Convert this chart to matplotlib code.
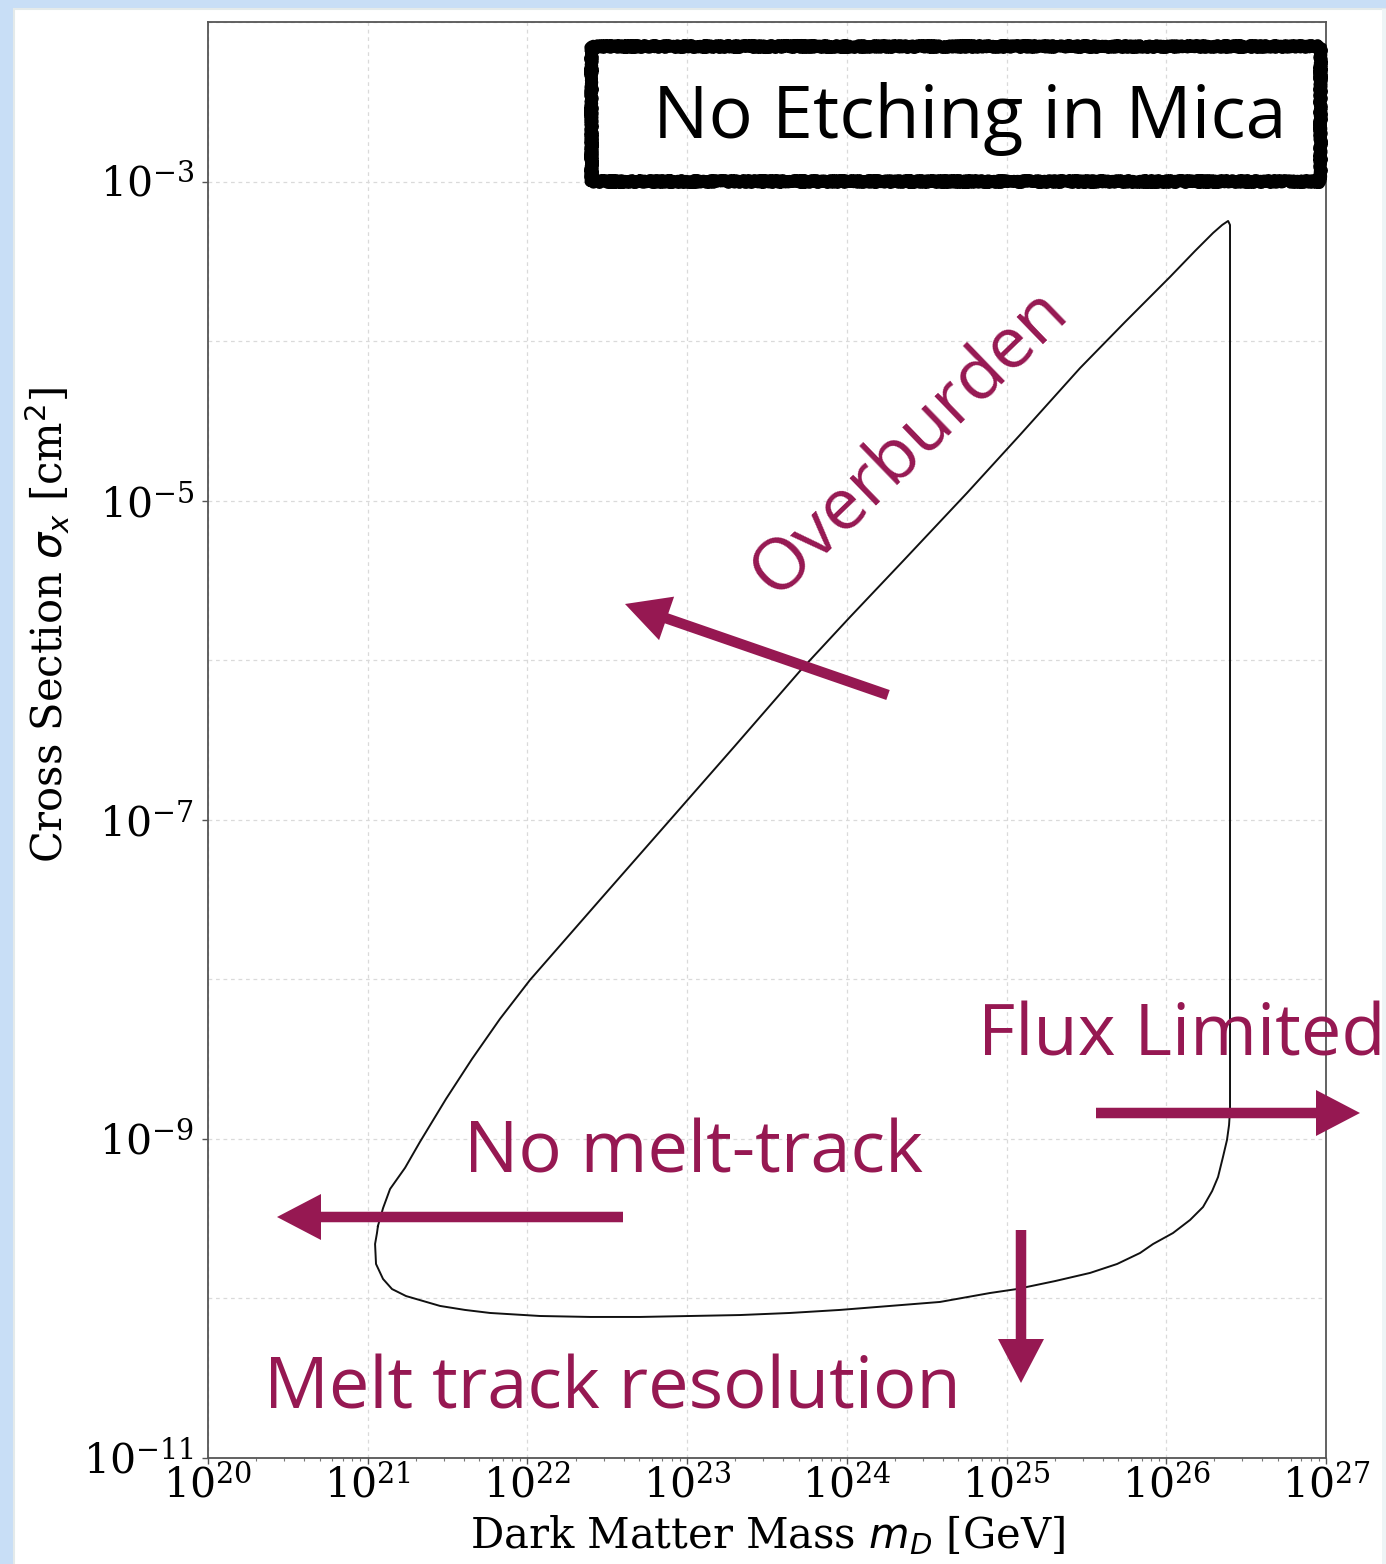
import numpy as np
import matplotlib
matplotlib.use("Agg")
import matplotlib.pyplot as plt
from matplotlib.patches import Rectangle, FancyArrow
from matplotlib.ticker import FixedLocator, LogFormatterSciNotation, NullFormatter, LogLocator

# Exclusion contour, log10 of mass [GeV] and cross section [cm^2]
log_mass = [21.064, 21.096, 21.140, 21.234, 21.327, 21.490, 21.653, 21.828,
            22.016, 22.454, 22.893, 23.300, 23.707, 24.020, 24.352, 24.752,
            25.084, 25.460, 25.742, 26.023, 26.180, 26.293, 26.350, 26.387,
            26.399, 26.399, 26.393, 26.380, 26.355, 26.324, 26.287, 26.230,
            26.149, 26.042, 25.917, 25.836, 25.692, 25.523, 25.304, 25.065,
            24.896, 24.583, 24.270, 23.957, 23.644, 23.331, 23.018, 22.705,
            22.392, 22.079, 21.766, 21.609, 21.453, 21.240, 21.152, 21.096,
            21.052, 21.046, 21.058, 21.064]
log_sigma = [-9.546, -9.434, -9.314, -9.181, -9.019, -8.750, -8.499, -8.248,
             -8.004, -7.502, -7.001, -6.536, -6.067, -5.729, -5.378, -4.952,
             -4.588, -4.169, -3.880, -3.598, -3.435, -3.322, -3.272, -3.247,
             -3.272, -8.819, -8.913, -9.007, -9.113, -9.239, -9.327, -9.427,
             -9.508, -9.590, -9.659, -9.715, -9.784, -9.840, -9.891, -9.941,
             -9.966, -10.022, -10.047, -10.072, -10.091, -10.104, -10.110, -10.116,
             -10.116, -10.110, -10.091, -10.072, -10.047, -9.985, -9.941, -9.878,
             -9.784, -9.659, -9.590, -9.546]

mass = 10.0 ** np.array(log_mass)
sigma = 10.0 ** np.array(log_sigma)

plt.rcParams["font.family"] = "DejaVu Serif"
plt.rcParams["mathtext.fontset"] = "dejavusans"

W, H, DPI = 1386, 1564, 100
fig = plt.figure(figsize=(W / DPI, H / DPI), dpi=DPI)
fig.patch.set_facecolor("#c8def6")


def inch(px, py):
    # pixel position (origin top-left) -> inches from bottom-left
    return px / DPI, (H - py) / DPI


# white slide panel
x0, y0 = inch(14, H + 10)
fig.add_artist(Rectangle((x0, y0), (W + 20 - 14) / DPI, (H + 10 - 9) / DPI,
                         transform=fig.dpi_scale_trans, facecolor="white",
                         edgecolor="#e4eaea", lw=1.5, zorder=0))
xa, ya = inch(1382, H)
fig.add_artist(Rectangle((xa, ya), 4 / DPI, (H - 9) / DPI,
                         transform=fig.dpi_scale_trans, facecolor="#eef4f6",
                         lw=0, zorder=0))

ax = fig.add_axes([208 / W, 1 - 1458 / H, (1326 - 208) / W, (1458 - 22) / H])
ax.set_xscale("log")
ax.set_yscale("log")
ax.set_xlim(1e20, 1e27)
ax.set_ylim(1e-11, 1e-2)

ax.plot(mass, sigma, color="#111111", lw=1.4, zorder=3,
        solid_joinstyle="round")

ax.xaxis.set_major_locator(LogLocator(base=10, numticks=20))
ax.xaxis.set_minor_locator(LogLocator(base=10, subs=np.arange(2, 10), numticks=20))
ax.xaxis.set_minor_formatter(NullFormatter())
ax.yaxis.set_major_locator(FixedLocator([10.0 ** e for e in range(-11, -2, 2)]))
ax.yaxis.set_minor_locator(FixedLocator([10.0 ** e for e in range(-10, -1, 2)]))
ax.yaxis.set_major_formatter(LogFormatterSciNotation())
ax.yaxis.set_minor_formatter(NullFormatter())
ax.tick_params(axis="both", which="major", labelsize=29.5, length=4, width=1,
               color="#555555")
ax.tick_params(axis="x", which="major", pad=2)
ax.tick_params(axis="y", which="major", pad=6)
ax.tick_params(axis="x", which="minor", length=2, width=0.8, color="#777777")
ax.tick_params(axis="y", which="minor", length=0)
for s in ax.spines.values():
    s.set_color("#555555")
    s.set_linewidth(1.3)

grid_kw = dict(color="#dadada", lw=0.9, linestyle=(0, (3, 3)))
ax.xaxis.grid(True, which="major", **grid_kw)
ax.yaxis.grid(True, which="both", **grid_kw)

ax.set_xlabel("Dark Matter Mass $m_D$ [GeV]", fontsize=30, labelpad=4)
ax.set_ylabel(r"Cross Section $\sigma_x$ [cm$^2$]", fontsize=30)
ax.yaxis.set_label_coords((72 - 208) / 1118, (1458 - 625) / 1436)

# hand-drawn style title box: a few rough strokes laid over each other
bx, by = inch(591, 181)
bw, bh = (1320 - 591) / DPI, (181 - 46) / DPI
strokes = [(8, 2.0, 5, 3), (5, 3.0, 3, 4), (4, 3.5, 8, 2), (2.5, 4.5, 2, 3)]
for lw, sc, ln, rn in strokes:
    box = Rectangle((bx, by), bw, bh, transform=fig.dpi_scale_trans,
                    fill=False, edgecolor="black", lw=lw, zorder=5)
    box.set_joinstyle("round")
    box.set_capstyle("round")
    box.set_sketch_params(scale=sc, length=ln, randomness=rn)
    fig.add_artist(box)

hand = "Open Sans"
accent = "#961852"


def label(px, py, s, color=accent, size=52, rot=0):
    x, y = inch(px, py)
    fig.text(x, y, s, transform=fig.dpi_scale_trans, fontsize=size, color=color,
             family=hand, ha="center", va="center", rotation=rot,
             rotation_mode="anchor", zorder=6)


def arrow(px0, py0, px1, py1):
    x0, y0 = inch(px0, py0)
    x1, y1 = inch(px1, py1)
    fig.add_artist(FancyArrow(x0, y0, x1 - x0, y1 - y0, width=0.105,
                              head_width=0.46, head_length=0.44,
                              length_includes_head=True, color=accent,
                              lw=0, transform=fig.dpi_scale_trans, zorder=6))


label(970, 119, "No Etching in Mica", color="black", size=53)
label(910, 443, "Overburden", rot=44)
label(1182, 1037, "Flux Limited")
label(694, 1154, "No melt-track")
label(612, 1390, "Melt track resolution")

arrow(888, 695, 625, 604)
arrow(623, 1217, 277, 1217)
arrow(1096, 1113, 1360, 1113)
arrow(1021, 1230, 1021, 1383)

fig.savefig("out.png", dpi=DPI)
